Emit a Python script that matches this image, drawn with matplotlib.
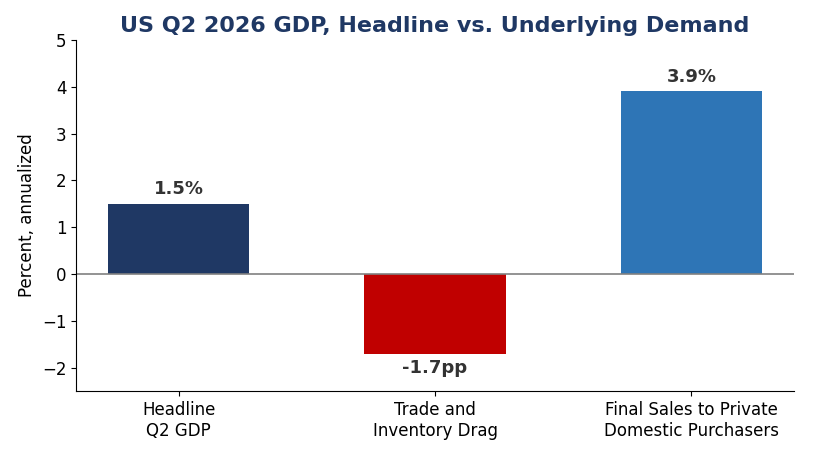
import matplotlib
matplotlib.use("Agg")
import matplotlib.pyplot as plt

categories = ["Headline\nQ2 GDP", "Trade and\nInventory Drag", "Final Sales to Private\nDomestic Purchasers"]
values = [1.5, -1.7, 3.9]
labels = ["1.5%", "-1.7pp", "3.9%"]
colors = ["#1f3864", "#c00000", "#2e75b6"]

fig = plt.figure(figsize=(8.13, 4.5), dpi=100)
ax = fig.add_axes([76/813, 1-391/450, (794-76)/813, (391-40)/450])
x = range(len(values))
ax.bar(x, values, width=0.55, color=colors)
ax.axhline(0, color="gray", lw=1.2)
for i, (v, l) in enumerate(zip(values, labels)):
    ax.text(i, v + (0.12 if v > 0 else -0.3), l, ha="center", va="bottom" if v > 0 else "center",
            fontsize=13, fontweight="bold", color="#333333")
ax.set_xlim(-0.4, 2.4)
ax.set_ylim(-2.5, 5)
ax.set_xticks(list(x))
ax.set_xticklabels(categories, fontsize=12)
ax.tick_params(axis="y", labelsize=12)
ax.set_ylabel("Percent, annualized", fontsize=12, family="Liberation Sans Narrow")
ax.spines["top"].set_visible(False)
ax.spines["right"].set_visible(False)
ax.set_title("US Q2 2026 GDP, Headline vs. Underlying Demand", fontsize=16, fontweight="bold", color="#1f3864", pad=6)
fig.savefig("out.png", dpi=100)
